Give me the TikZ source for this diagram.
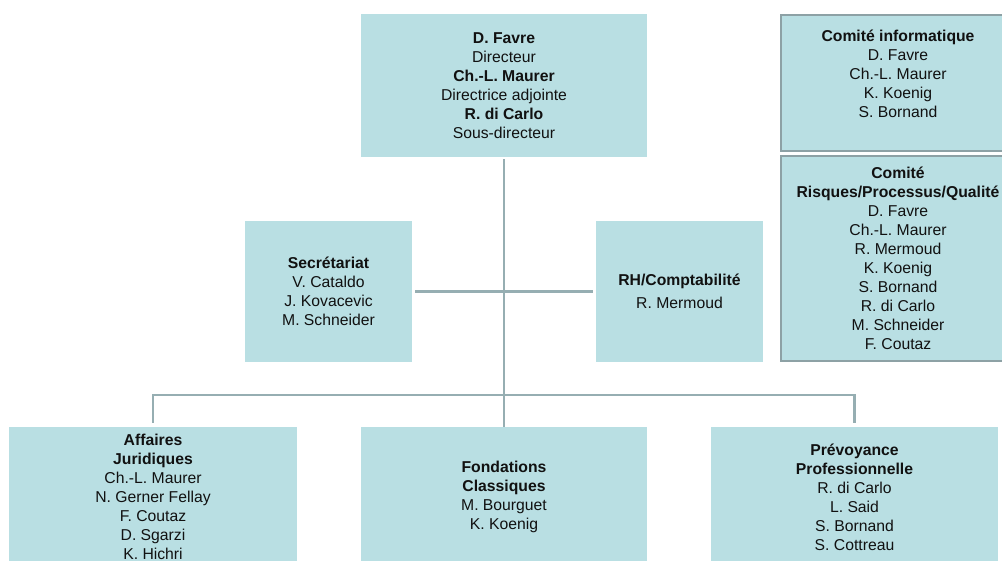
\documentclass[tikz,border=0pt]{standalone}
\usepackage{fontspec}
\setmainfont{Liberation Sans}
\usepackage{tikz}
\usetikzlibrary{calc}
\definecolor{OCBox}{HTML}{B9DFE3}
\definecolor{OCLine}{HTML}{96AEB2}
\definecolor{OCEdge}{HTML}{8DA1A5}
\definecolor{OCInk}{HTML}{111111}
\tikzset{
  unit/.style={fill=OCBox,text=OCInk,align=center,inner sep=0pt,
               font=\fontsize{11.8}{14.2}\selectfont},
  committee/.style={unit,draw=OCEdge,line width=1.6pt},
  link/.style={OCLine,line width=2.2pt},
}

\begin{document}
\begin{tikzpicture}[x=.75pt,y=-.75pt]
    \useasboundingbox (0,0) rectangle (1002,560);
    \clip (0,0) rectangle (1002,560);
    % direction
    \node[unit,minimum width=214.5pt,minimum height=107pt] (dir) at (504,85.5)
      {\textbf{D. Favre}\\Directeur\\\textbf{Ch.-L. Maurer}\\Directrice adjointe\\\textbf{R. di Carlo}\\Sous-directeur};
    % committees
    \node[committee,minimum width=175.5pt,minimum height=102pt] (cominfo) at (898,83)
      {\textbf{Comité informatique}\\D. Favre\\Ch.-L. Maurer\\K. Koenig\\S. Bornand\\\mbox{}};
    \node[committee,minimum width=175.5pt,minimum height=153.5pt] (comrisk) at (898,258.5)
      {\textbf{Comité}\\\textbf{Risques/Processus/Qualité}\\D. Favre\\Ch.-L. Maurer\\R. Mermoud\\K. Koenig\\S. Bornand\\R. di Carlo\\M. Schneider\\F. Coutaz};
    % staff
    \node[unit,minimum width=125pt,minimum height=105.5pt] (secr) at (328.5,291.5)
      {\textbf{Secrétariat}\\V. Cataldo\\J. Kovacevic\\M. Schneider};
    \node[unit,minimum width=125pt,minimum height=105.5pt] (rh) at (679.5,291.5)
      {\textbf{RH/Comptabilité}\\[3pt]R. Mermoud};
    % departments
    \node[unit,minimum width=216pt,minimum height=105pt] (aff) at (153,497)
      {\textbf{Affaires}\\\textbf{Juridiques}\\Ch.-L. Maurer\\N. Gerner Fellay\\F. Coutaz\\D. Sgarzi\\K. Hichri};
    \node[unit,minimum width=214.5pt,minimum height=105pt] (fond) at (504,497)
      {\textbf{Fondations}\\\textbf{Classiques}\\M. Bourguet\\K. Koenig};
    \node[unit,minimum width=215pt,minimum height=105pt] (prev) at (854.5,497)
      {\textbf{Prévoyance}\\\textbf{Professionnelle}\\R. di Carlo\\L. Said\\S. Bornand\\S. Cottreau};
    % connectors
    \coordinate (bus) at (504,395);
    \draw[link,shorten <=1.5pt] (dir.south) -- (fond.north);
    \draw[link,shorten <=2.5pt,shorten >=2.5pt] (secr.east) -- (rh.west);
    \draw[link,shorten <=3pt,shorten >=3pt] (aff.north) |- (bus) -| (prev.north);
  \end{tikzpicture}
\end{document}
